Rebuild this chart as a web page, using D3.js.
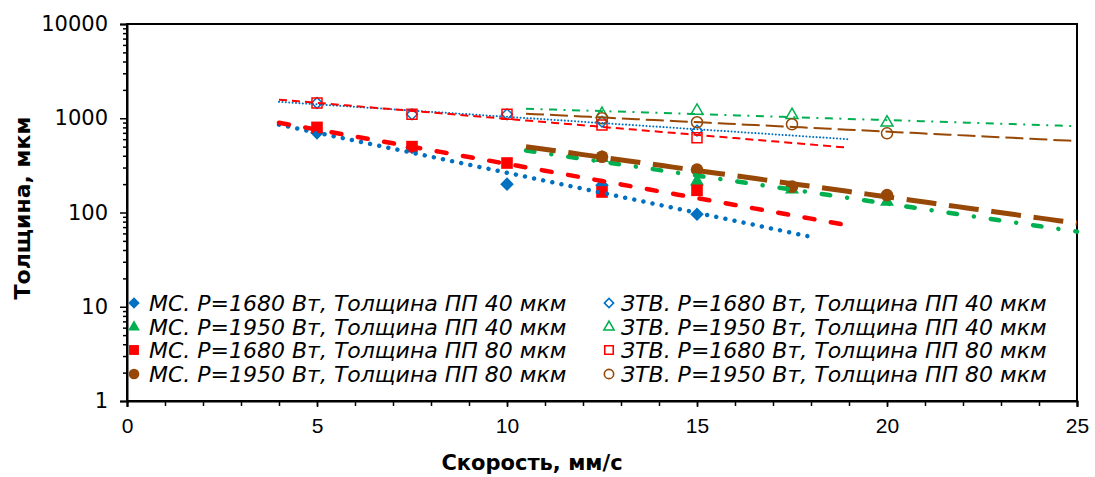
<!DOCTYPE html>
<html>
<head>
<meta charset="utf-8">
<script src="https://cdn.jsdelivr.net/npm/d3@7"></script>
<style>
  html, body { margin: 0; padding: 0; background: #fff; }
  svg { display: block; font-family: "DejaVu Sans", Verdana, sans-serif; }
</style>
</head>
<body>
<svg id="chart" width="1095" height="477"></svg>
<script>
// Скорость сканирования (мм/с) и толщина (мкм) для каждой серии
const xMs1680 = [5, 7.5, 10, 12.5, 15];
const yMs1680t40 = [700, 490, 200, 195, 96];
const yMs1680t80 = [800, 500, 335, 165, 172];
const xMs1950 = [12.5, 15, 17.5, 20];
const yMs1950t40 = [380, 214, 175, 130];
const yMs1950t80 = [390, 285, 188, 153];
const xZtv1680 = [5, 7.5, 10, 12.5, 15];
const yZtv1680t40 = [1450, 1100, 1100, 920, 740];
const yZtv1680t80 = [1450, 1100, 1100, 850, 620];
const xZtv1950 = [12.5, 15, 17.5, 20];
const yZtv1950t40 = [1110, 1200, 1080, 900];
const yZtv1950t80 = [1000, 906, 863, 692];

const seriesNames = [
  "МС. Р=1680 Вт, Толщина ПП 40 мкм",
  "МС. Р=1950 Вт, Толщина ПП 40 мкм",
  "МС. Р=1680 Вт, Толщина ПП 80 мкм",
  "МС. Р=1950 Вт, Толщина ПП 80 мкм",
  "ЗТВ. Р=1680 Вт, Толщина ПП 40 мкм",
  "ЗТВ. Р=1950 Вт, Толщина ПП 40 мкм",
  "ЗТВ. Р=1680 Вт, Толщина ПП 80 мкм",
  "ЗТВ. Р=1950 Вт, Толщина ПП 80 мкм"
];
// Диапазон экспоненциальных линий тренда (с прогнозом назад/вперёд)
const trendFrom = [4, 10.5, 4, 10.5, 4, 10.5, 4, 10.5];
const trendTo = [18, 25, 19, 25, 19, 25, 19, 25];

const xTicksMajor = [0, 5, 10, 15, 20, 25];
const yTicksMajor = [1, 10, 100, 1000, 10000];

const blue = "#0070C0", green = "#00B050", red = "#FF0000", brown = "#974806";

const series = [
  { x: xMs1680, y: yMs1680t40, color: blue,  shape: "diamond",  open: false,
    line: { w: 4.5, dash: "0.01 9.3", cap: "round" } },
  { x: xMs1950, y: yMs1950t40, color: green, shape: "triangle", open: false,
    line: { w: 4.5, dash: "8.5 17.1 0.01 17.1", cap: "round" } },
  { x: xMs1680, y: yMs1680t80, color: red,   shape: "square",   open: false,
    line: { w: 4.5, dash: "10 16.7", cap: "round" } },
  { x: xMs1950, y: yMs1950t80, color: brown, shape: "circle",   open: false,
    line: { w: 5, dash: "30 12.7", cap: "butt" } },
  { x: xZtv1680, y: yZtv1680t40, color: blue,  shape: "diamond",  open: true,
    line: { w: 2, dash: "0.01 3.4", cap: "round" } },
  { x: xZtv1950, y: yZtv1950t40, color: green, shape: "triangle", open: true,
    line: { w: 2, dash: "8 6.5 2 6.5", cap: "butt" } },
  { x: xZtv1680, y: yZtv1680t80, color: red,   shape: "square",   open: true,
    line: { w: 2, dash: "8 5", cap: "butt" } },
  { x: xZtv1950, y: yZtv1950t80, color: brown, shape: "circle",   open: true,
    line: { w: 2, dash: "18 6", cap: "butt" } }
];
series.forEach((s, i) => { s.name = seriesNames[i]; s.from = trendFrom[i]; s.to = trendTo[i]; });

const svg = d3.select("#chart");
const plotLeft = 127, plotRight = 1077, plotTop = 24, plotBottom = 401;

const x = d3.scaleLinear().domain([0, 25]).range([plotLeft, plotRight]);
const y = d3.scaleLog().domain([1, 10000]).range([plotBottom, plotTop]);

// Экспоненциальная аппроксимация y = a·e^(b·x) методом наименьших квадратов по ln(y)
function expFit(xs, ys) {
  const n = xs.length;
  const ly = ys.map(Math.log);
  const mx = d3.mean(xs), my = d3.mean(ly);
  let sxy = 0, sxx = 0;
  for (let i = 0; i < n; i++) { sxy += (xs[i] - mx) * (ly[i] - my); sxx += (xs[i] - mx) ** 2; }
  const b = sxy / sxx;
  const a = my - b * mx;
  return v => Math.exp(a + b * v);
}

// Маркеры: ромб — повернутый квадрат
function marker(sel, shape, open, k) {
  const sizes = open
    ? { diamond: 58, triangle: 62, square: 100, circle: 95 }
    : { diamond: 92, triangle: 84, square: 135, circle: 125 };
  const type = { diamond: d3.symbolSquare, triangle: d3.symbolTriangle, square: d3.symbolSquare, circle: d3.symbolCircle }[shape];
  sel.attr("d", d3.symbol(type, sizes[shape] * k * k)());
  return shape === "diamond" ? " rotate(45)" : "";
}

// Рамка области построения
svg.append("rect")
  .attr("x", plotLeft).attr("y", plotTop)
  .attr("width", plotRight - plotLeft).attr("height", plotBottom - plotTop)
  .attr("fill", "none").attr("stroke", "#000").attr("stroke-width", 2);

// Ось X: малые деления через 1, подписи через 5
const xMinor = d3.range(0, 26);
svg.append("g").attr("transform", `translate(0,${plotBottom})`)
  .call(d3.axisBottom(x).tickValues(xMinor).tickSize(5).tickFormat(""))
  .call(g => g.select(".domain").remove())
  .call(g => g.selectAll("line").attr("stroke-width", 1.5));
svg.append("g").attr("transform", `translate(0,${plotBottom})`)
  .call(d3.axisBottom(x).tickValues(xTicksMajor).tickSize(6).tickPadding(11).tickFormat(d3.format("d")))
  .call(g => g.select(".domain").attr("stroke-width", 2))
  .call(g => g.selectAll("line").attr("stroke-width", 1.5))
  .call(g => g.selectAll("text").attr("font-size", 21).attr("fill", "#000")
    .attr("font-family", "'Liberation Sans', Arial, sans-serif"));

// Ось Y (логарифмическая)
const yMinor = [];
for (let d = 1; d < 10000; d *= 10) for (let k = 2; k <= 9; k++) yMinor.push(d * k);
svg.append("g").attr("transform", `translate(${plotLeft},0)`)
  .call(d3.axisLeft(y).tickValues(yMinor).tickSize(4).tickFormat(""))
  .call(g => g.select(".domain").remove())
  .call(g => g.selectAll("line").attr("stroke-width", 1.5));
svg.append("g").attr("transform", `translate(${plotLeft},0)`)
  .call(d3.axisLeft(y).tickValues(yTicksMajor).tickSize(7).tickPadding(12).tickFormat(d3.format("d")))
  .call(g => g.select(".domain").attr("stroke-width", 2))
  .call(g => g.selectAll("line").attr("stroke-width", 1.5))
  .call(g => g.selectAll("text").attr("font-size", 21).attr("fill", "#000")
    .attr("font-family", "'DejaVu Sans', Verdana, sans-serif"));

// Маркеры точек
const plot = svg.append("g");
series.forEach(s => {
  plot.append("g").selectAll("path")
    .data(s.x.map((v, i) => [v, s.y[i]]))
    .join("path")
    .each(function (d) {
      const rot = marker(d3.select(this), s.shape, s.open, 1);
      d3.select(this).attr("transform", `translate(${x(d[0])},${y(d[1])})${rot}`);
    })
    .attr("fill", s.open ? "none" : s.color)
    .attr("stroke", s.open ? s.color : "none")
    .attr("stroke-width", s.open ? 1.5 : 0);
});

// Линии тренда
const trendLine = d3.line().x(d => x(d[0])).y(d => y(d[1]));
series.forEach(s => {
  const f = expFit(s.x, s.y);
  const pts = d3.range(0, 61).map(i => {
    const v = s.from + (s.to - s.from) * i / 60;
    return [v, f(v)];
  });
  plot.append("path")
    .attr("d", trendLine(pts))
    .attr("fill", "none")
    .attr("stroke", s.color)
    .attr("stroke-width", s.line.w)
    .attr("stroke-dasharray", s.line.dash)
    .attr("stroke-linecap", s.line.cap);
});

// Легенда в две колонки
const legendRows = [303, 327, 350, 374];
series.forEach((s, i) => {
  const col = i < 4 ? 0 : 1;
  const row = i % 4;
  const mx = col === 0 ? 134 : 609;
  const g = svg.append("g").attr("transform", `translate(${mx},${legendRows[row]})`);
  const p = g.append("path");
  const rot = marker(p, s.shape, s.open, 0.85);
  p.attr("transform", rot.trim())
    .attr("fill", s.open ? "#fff" : s.color)
    .attr("stroke", s.open ? s.color : "none")
    .attr("stroke-width", s.open ? 1.6 : 0);
  g.append("text")
    .attr("x", col === 0 ? 15 : 12)
    .attr("y", 7.5)
    .attr("font-size", 22)
    .attr("font-style", "italic")
    .attr("fill", "#000")
    .text(s.name);
});

// Подписи осей
svg.append("text")
  .attr("x", 532).attr("y", 470)
  .attr("text-anchor", "middle")
  .attr("font-size", 21).attr("font-weight", "bold")
  .text("Скорость, мм/с");
svg.append("text")
  .attr("transform", "translate(30,208) rotate(-90)")
  .attr("text-anchor", "middle")
  .attr("font-size", 22).attr("font-weight", "bold")
  .text("Толщина, мкм");
</script>
</body>
</html>
